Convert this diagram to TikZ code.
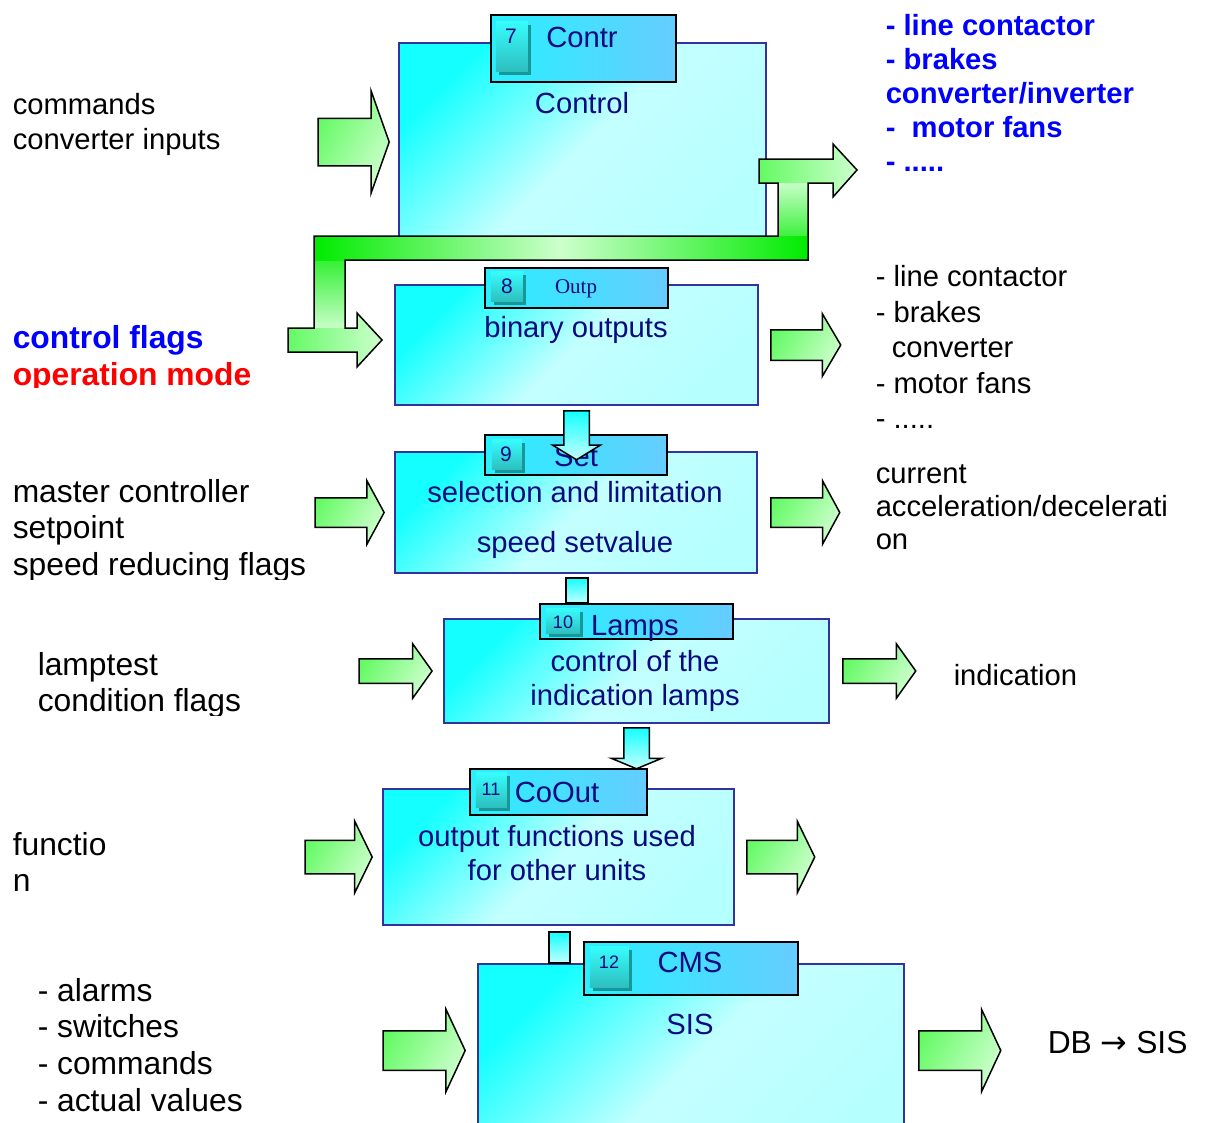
\documentclass[tikz,border=0pt]{standalone}
\usepackage{fontspec}
\setmainfont{Liberation Sans}
\newfontfamily\tabserif{Liberation Serif}
\newfontfamily\arrowfont{DejaVu Sans}
\usetikzlibrary{shapes.arrows, shadows, calc}

\definecolor{boxedge}{RGB}{51,51,160}
\definecolor{boxcyan}{RGB}{20,255,255}
\definecolor{boxpale}{RGB}{196,255,255}
\definecolor{boxlow}{RGB}{182,255,255}
\definecolor{boxtext}{RGB}{10,10,128}
\definecolor{tableft}{RGB}{40,240,255}
\definecolor{tabright}{RGB}{102,204,255}
\definecolor{badgetop}{RGB}{55,252,252}
\definecolor{badgelow}{RGB}{45,190,190}
\definecolor{badgeshadow}{RGB}{25,150,150}
\definecolor{gbright}{RGB}{0,235,0}
\definecolor{gleft}{RGB}{100,250,100}
\definecolor{gpale}{RGB}{205,255,205}
\definecolor{flagblue}{RGB}{0,0,255}
\definecolor{flagred}{RGB}{255,0,0}

\begin{document}
\begin{tikzpicture}[x=1pt, y=-1pt, line width=1.5pt,
  mainbox/.style={draw=boxedge, line width=2pt, inner sep=0pt, anchor=north west,
    top color=boxcyan, bottom color=boxlow, middle color=boxpale, shading angle=45},
  tabbox/.style={draw=black, line width=2pt, inner sep=0pt, anchor=north west,
    left color=tableft, right color=tabright},
  badge/.style={inner sep=0pt, anchor=north west, top color=badgetop, bottom color=badgelow,
    general shadow={fill=badgeshadow, shadow xshift=3pt, shadow yshift=-3pt}},
  numlabel/.style={text=boxtext, inner sep=0pt, anchor=base, font=\fontsize{21}{24}\selectfont},
  boxlabel/.style={text=boxtext, inner sep=0pt, anchor=base, font=\fontsize{29.2}{34}\selectfont},
  boxpara/.style={boxlabel, anchor=north, align=center, execute at begin node=\strut},
  sidetext/.style={inner sep=0pt, anchor=north west, align=left,
    font=\fontsize{29.2}{35}\selectfont, execute at begin node=\strut},
  sidebig/.style={sidetext, font=\fontsize{31.8}{36.7}\selectfont},
  sideline/.style={inner sep=0pt, anchor=base west, font=\fontsize{29.2}{34}\selectfont},
  garrow/.style={single arrow, draw=black, anchor=tail,
    left color=gleft, right color=gpale, shading angle=60},
  carrow/.style={single arrow, shape border rotate=270, draw=black, inner sep=12pt, anchor=tail,
    top color=boxcyan, bottom color=boxpale},
  stub/.style={draw=black, top color=boxcyan, bottom color=boxpale}]

  \useasboundingbox (0,0) rectangle (1207,1122);
  \clip (0,0) rectangle (1207,1122);

  % 7 Contr
  \node[mainbox, minimum width=367pt, minimum height=208pt] (ctrl) at (398,42) {};
  \node[tabbox, minimum width=185pt, minimum height=67pt] (tctrl) at (490,14) {};
  \node[badge, minimum width=32pt, minimum height=50pt] (kctrl) at (495,21) {};
  \node[numlabel] (nctrl) at (511,43) {7};
  \node[boxlabel] (hctrl) at (582,47) {Contr};
  \node[boxlabel] (lctrl) at (582,113) {Control};
  \node[garrow, anchor=tip, inner sep=23pt, minimum height=71pt, minimum width=101pt,
        single arrow head extend=27.5pt, single arrow tip angle=141]
        (inctrl) at ($(ctrl.west)+(-8,-5)$) {};

  % L-shaped branch out of Control
  \shade[top color=gbright, bottom color=gpale] (314,236) rectangle (345,330);
  \shade[top color=gpale, bottom color=gbright] (778,181) rectangle (808,260);
  \shade[left color=gbright, right color=gbright, middle color=gpale] (314,236) rectangle (808,260);
  \shade[left color=gleft, right color=gpale] (288,328) -- (357,328) -- (357,313) -- (382,340)
        -- (357,367) -- (357,352) -- (288,352) -- cycle;
  \shade[left color=gleft, right color=gpale] (759,159) -- (833,159) -- (833,144) -- (857,170)
        -- (833,197) -- (833,183) -- (759,183) -- cycle;
  \draw (314,236) -- (778,236) -- (778,183) -- (759,183) -- (759,159) -- (833,159) -- (833,144)
        -- (857,170) -- (833,197) -- (833,183) -- (808,183) -- (808,260) -- (345,260) -- (345,328)
        -- (357,328) -- (357,313) -- (382,340) -- (357,367) -- (357,352) -- (288,352) -- (288,328)
        -- (314,328) -- cycle;

  % 8 Outp
  \node[mainbox, minimum width=363pt, minimum height=120pt] (outp) at (394,284) {};
  \node[tabbox, minimum width=183pt, minimum height=40pt] (toutp) at (484,267) {};
  \node[badge, minimum width=32pt, minimum height=30pt] (koutp) at (490,271) {};
  \node[numlabel] (noutp) at (507,293) {8};
  \node[boxlabel, font=\tabserif\fontsize{21}{24}\selectfont] (houtp) at (576,293) {Outp};
  \node[boxlabel] (loutp) at (576,337) {binary outputs};
  \node[garrow, inner sep=14.5pt, minimum height=70pt, minimum width=61pt,
        single arrow head extend=16pt, single arrow tip angle=119]
        (outoutp) at ($(outp.east)+(11,0)$) {};

  % 9 Set
  \node[mainbox, minimum width=362pt, minimum height=121pt] (set) at (394,451) {};
  \node[tabbox, minimum width=182pt, minimum height=40pt] (tset) at (484,434) {};
  \node[badge, minimum width=30pt, minimum height=30pt] (kset) at (491,439) {};
  \node[numlabel] (nset) at (506,461) {9};
  \node[boxlabel] (hset) at (576,466) {Set};
  \node[boxlabel] (lset) at (575,502) {selection and limitation};
  \node[boxlabel] (lsetb) at (575,552) {speed setvalue};
  \node[garrow, anchor=tip, inner sep=14pt, minimum height=69pt, minimum width=62pt,
        single arrow head extend=17pt, single arrow tip angle=123]
        (inset) at ($(set.west)+(-9,0)$) {};
  \node[garrow, inner sep=14pt, minimum height=69pt, minimum width=62pt,
        single arrow head extend=17pt, single arrow tip angle=123]
        (outset) at ($(set.east)+(12,0)$) {};
  \node[carrow, minimum height=49pt, minimum width=46pt,
        single arrow head extend=11pt, single arrow tip angle=117]
        (downset) at ($(outp.south)+(0,4)$) {};

  % 10 Lamps
  \node[mainbox, minimum width=385pt, minimum height=104pt] (lamps) at (443,618) {};
  \node[tabbox, minimum width=193pt, minimum height=35pt] (tlamps) at (539,603) {};
  \node[badge, minimum width=34pt, minimum height=25pt] (klamps) at (545,608) {};
  \node[numlabel, font=\fontsize{18}{20}\selectfont] (nlamps) at (563,628) {10};
  \node[boxlabel] (hlamps) at (635,635) {Lamps};
  \node[boxpara] (llamps) at (635,649.2) {control of the\\indication lamps};
  \shade[stub] ($(set.south)+(-10,4)$) rectangle (588,0 |- tlamps.north);
  \node[garrow, anchor=tip, inner sep=11.5pt, minimum height=73pt, minimum width=53pt,
        single arrow head extend=15pt, single arrow tip angle=109]
        (inlamps) at ($(lamps.west)+(-10,0)$) {};
  \node[garrow, inner sep=11.5pt, minimum height=73pt, minimum width=53pt,
        single arrow head extend=15pt, single arrow tip angle=109]
        (outlamps) at ($(lamps.east)+(12,0)$) {};

  % 11 CoOut
  \node[mainbox, minimum width=351pt, minimum height=136pt] (coout) at (382,788) {};
  \node[tabbox, minimum width=177pt, minimum height=46pt] (tcoout) at (469,768) {};
  \node[badge, minimum width=31pt, minimum height=35pt] (kcoout) at (475,772) {};
  \node[numlabel, font=\fontsize{18}{20}\selectfont] (ncoout) at (491,795) {11};
  \node[boxlabel] (hcoout) at (557,802) {CoOut};
  \node[boxpara] (lcoout) at (557,824.2) {output functions used\\for other units};
  \node[garrow, anchor=tip, inner sep=16pt, minimum height=67pt, minimum width=70pt,
        single arrow head extend=19pt, single arrow tip angle=128]
        (incoout) at ($(coout.west)+(-9,0)$) {};
  \node[garrow, inner sep=16pt, minimum height=68pt, minimum width=70pt,
        single arrow head extend=19pt, single arrow tip angle=128]
        (outcoout) at ($(coout.east)+(11,0)$) {};
  \node[carrow, minimum height=41pt, minimum width=49pt,
        single arrow head extend=12.5pt, single arrow tip angle=135]
        (downcoout) at ($(lamps.south)+(0,3)$) {};

  % 12 CMS
  \node[mainbox, minimum width=426pt, minimum height=200pt] (cms) at (477,963) {};
  \shade[stub] ($(coout.south)+(-9.5,6)$) rectangle (570,0 |- cms.north);
  \node[tabbox, minimum width=214pt, minimum height=53pt] (tcms) at (583,941) {};
  \node[badge, minimum width=39pt, minimum height=41pt] (kcms) at (589,946) {};
  \node[numlabel, font=\fontsize{18}{20}\selectfont] (ncms) at (609,968) {12};
  \node[boxlabel] (hcms) at (690,972) {CMS};
  \node[boxlabel] (lcms) at (690,1034) {SIS};
  \node[garrow, anchor=tip, inner sep=19pt, minimum height=82pt, minimum width=81pt,
        single arrow head extend=21.5pt, single arrow tip angle=130]
        (incms) at ($(cms.west)+(-11,-13.5)$) {};
  \node[garrow, inner sep=19pt, minimum height=82pt, minimum width=81pt,
        single arrow head extend=21.5pt, single arrow tip angle=130]
        (outcms) at ($(cms.east)+(13,-13.5)$) {};

  % inputs
  \node[sidetext] (ctrlin) at (12,92.5) {commands\\converter inputs};
  \node[sideline, text=flagblue, font=\bfseries\fontsize{31.8}{36}\selectfont] (flags) at (12,348) {control flags};
  \begin{scope}
    \clip (0,300) rectangle (385,387);
    \node[sideline, text=flagred, font=\bfseries\fontsize{31.8}{36}\selectfont] (opmode) at (12,385) {operation mode};
  \end{scope}
  \begin{scope}
    \clip (0,450) rectangle (385,579);
    \node[sidebig] (setin) at (12,478.3) {master controller\\setpoint\\speed reducing flags};
  \end{scope}
  \begin{scope}
    \clip (0,630) rectangle (385,715);
    \node[sidebig] (lampsin) at (37,651.3) {lamptest\\condition flags};
  \end{scope}
  \node[sidebig] (cooutin) at (12,831.3) {functio\\n};
  \node[sidebig] (cmsin) at (37,977.3) {- alarms\\- switches\\- commands\\- actual values};

  % outputs
  \node[sidetext, text=flagblue, font=\bfseries\fontsize{29.2}{34}\selectfont] (ctrlout) at (885,13.2)
       {- line contactor\\- brakes\\converter/inverter\\-\ \ motor fans\\- .....};
  \node[sidetext, font=\fontsize{29.2}{35.5}\selectfont] (outpout) at (875,265)
       {- line contactor\\- brakes\\\hspace*{16pt}converter\\- motor fans\\- .....};
  \node[sidetext, font=\fontsize{29.2}{33}\selectfont] (setout) at (875,463.9)
       {current\\acceleration/decelerati\\on};
  \begin{scope}
    \clip (900,600) rectangle (1207,686);
    \node[sideline] (lampsout) at (953,685) {indication};
  \end{scope}
  \node[sideline, font=\fontsize{31.8}{36}\selectfont] (cmsout) at (1047,1053) {DB {\arrowfont →} SIS};
\end{tikzpicture}
\end{document}
